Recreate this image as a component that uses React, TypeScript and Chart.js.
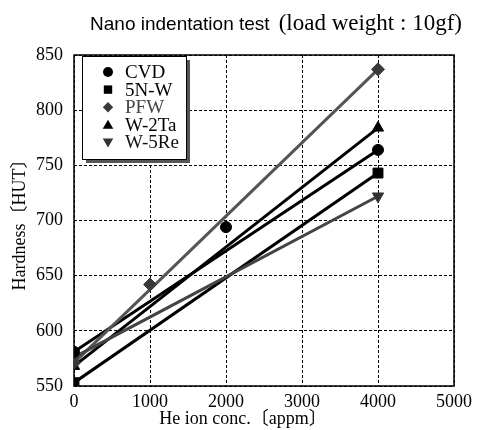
import React, { useEffect, useRef } from "react";
import { Chart, registerables } from "chart.js";
Chart.register(...registerables);

// ---- data ----
const seriesNames = ["CVD", "5N-W", "PFW", "W-2Ta", "W-5Re"];
const cvdX = [0, 2000, 4000];
const cvdY = [581, 694, 764];
const w5nX = [0, 4000];
const w5nY = [553, 743];
const pfwX = [0, 1000, 4000];
const pfwY = [571, 642, 837];
const w2taX = [0, 4000];
const w2taY = [568, 784];
const w5reX = [0, 4000];
const w5reY = [576, 722];
// fitted trend lines (start at 0, end at 4000 appm)
const fitX = [0, 4000];
const cvdFit = [581, 764];
const w5nFit = [553, 743];
const pfwFit = [571, 837];
const w2taFit = [568, 784];
const w5reFit = [576, 722];

const xTicks = [0, 1000, 2000, 3000, 4000, 5000];
const yTicks = [550, 600, 650, 700, 750, 800, 850];
const titleMain = "Nano indentation test";
const titleSub = "(load weight : 10gf)";
const xTitle = "He ion conc.〔appm〕";
const yTitle = "Hardness〔HUT〕";

const SERIF = "'Liberation Serif', 'Noto Sans CJK JP', serif";
const SANS = "'Liberation Sans', Arial, sans-serif";

const lineColors = ["#000000", "#000000", "#555555", "#000000", "#444444"];
const markColors = ["#000000", "#000000", "#3a3a3a", "#000000", "#333333"];
const textColors = ["#000000", "#000000", "#444444", "#000000", "#111111"];
const pointStyles = ["circle", "rect", "rectRot", "triangle", "triangle"];
const rotations = [0, 0, 0, 0, 180];
const radii = [5.5, 7, 6.5, 6.5, 6.5];

function pts(xs: number[], ys: number[]) {
  return xs.map((x, i) => ({ x, y: ys[i] }));
}

function drawMarker(ctx: CanvasRenderingContext2D, style: string, rot: number, x: number, y: number, s: number) {
  ctx.beginPath();
  if (style === "circle") {
    ctx.arc(x, y, s, 0, Math.PI * 2);
  } else if (style === "rect") {
    ctx.rect(x - s, y - s, 2 * s, 2 * s);
  } else if (style === "rectRot") {
    ctx.moveTo(x, y - s * 1.15);
    ctx.lineTo(x + s * 1.15, y);
    ctx.lineTo(x, y + s * 1.15);
    ctx.lineTo(x - s * 1.15, y);
    ctx.closePath();
  } else {
    const d = rot === 180 ? -1 : 1;
    ctx.moveTo(x, y - d * s);
    ctx.lineTo(x + s * 1.05, y + d * s * 0.8);
    ctx.lineTo(x - s * 1.05, y + d * s * 0.8);
    ctx.closePath();
  }
  ctx.fill();
}

const framePlugin = {
  id: "frame",
  beforeDatasetsDraw(chart: any) {
    const { ctx, chartArea: a } = chart;
    ctx.save();
    ctx.strokeStyle = "#000";
    ctx.lineWidth = 1.5;
    ctx.strokeRect(a.left, a.top, a.right - a.left, a.bottom - a.top);
    ctx.restore();
  },
  afterDraw(chart: any) {
    const { ctx, chartArea: a } = chart;
    ctx.save();
    // title
    ctx.fillStyle = "#000";
    ctx.textBaseline = "alphabetic";
    ctx.font = `19px ${SANS}`;
    const w1 = ctx.measureText(titleMain).width;
    ctx.font = `23px ${SERIF}`;
    const w2 = ctx.measureText(titleSub).width;
    const gap = 9;
    const total = w1 + gap + w2;
    const cx = 276;
    const x0 = cx - total / 2;
    ctx.font = `19px ${SANS}`;
    ctx.textAlign = "left";
    ctx.fillText(titleMain, x0, 30);
    ctx.font = `23px ${SERIF}`;
    ctx.fillText(titleSub, x0 + w1 + gap, 30);

    // x axis title
    ctx.font = `18px ${SERIF}`;
    ctx.textAlign = "center";
    ctx.textBaseline = "middle";
    ctx.fillText(xTitle, a.left + (a.right - a.left) * 0.445, 419);

    // legend
    const lx = a.left + 8;
    const ly = a.top + 1;
    const lw = 104;
    const lh = 103;
    ctx.fillStyle = "#555";
    ctx.fillRect(lx + 4, ly + 4, lw, lh);
    ctx.fillStyle = "#fff";
    ctx.fillRect(lx, ly, lw, lh);
    ctx.strokeStyle = "#000";
    ctx.lineWidth = 1;
    ctx.strokeRect(lx + 0.5, ly + 0.5, lw, lh);
    ctx.font = `19px ${SERIF}`;
    ctx.textAlign = "left";
    ctx.textBaseline = "middle";
    const msz = [5, 4.2, 4.5, 5, 5];
    seriesNames.forEach((name, i) => {
      const y = ly + 16 + i * 17.6;
      ctx.fillStyle = markColors[i];
      drawMarker(ctx, pointStyles[i], rotations[i], lx + 26, y, msz[i]);
      ctx.fillStyle = textColors[i];
      ctx.fillText(name, lx + 43, y + 1);
    });
    ctx.restore();
  },
};

export default function App() {
  const ref = useRef<HTMLCanvasElement>(null);
  useEffect(() => {
    document.body.style.margin = "0";
    const fits = [cvdFit, w5nFit, pfwFit, w2taFit, w5reFit];
    const xsArr = [cvdX, w5nX, pfwX, w2taX, w5reX];
    const ysArr = [cvdY, w5nY, pfwY, w2taY, w5reY];
    const lineSets = fits.map((f, i) => ({
      label: seriesNames[i] + " fit",
      data: pts(fitX, f),
      showLine: true,
      borderColor: lineColors[i],
      borderWidth: 3,
      pointRadius: 0,
      order: 10 - i,
    }));
    const markSets = xsArr.map((xs, i) => ({
      label: seriesNames[i],
      data: pts(xs, ysArr[i]),
      showLine: false,
      pointStyle: pointStyles[i],
      rotation: rotations[i],
      pointRadius: radii[i],
      backgroundColor: markColors[i],
      borderColor: markColors[i],
      borderWidth: 1,
      order: 0,
    }));
    const chart = new Chart(ref.current!, {
      type: "scatter",
      data: { datasets: [...lineSets, ...markSets] as any },
      plugins: [framePlugin],
      options: {
        animation: false,
        responsive: false,
        layout: { padding: { top: 55, right: 25, left: 0, bottom: 0 } },
        plugins: { legend: { display: false }, tooltip: { enabled: false }, title: { display: false } },
        scales: {
          x: {
            type: "linear",
            min: 0,
            max: 5000,
            afterFit: (s: any) => { s.height = 44; },
            afterBuildTicks: (s: any) => { s.ticks = xTicks.map((v) => ({ value: v })); },
            grid: { color: "#000", lineWidth: 1, drawTicks: false },
            border: { display: false, dash: [3, 2] },
            ticks: { color: "#000", font: { family: SERIF, size: 18 }, padding: 5, maxRotation: 0, callback: (v: any) => String(v) },
          },
          y: {
            type: "linear",
            min: 550,
            max: 850,
            afterFit: (s: any) => { s.width = 74; },
            afterBuildTicks: (s: any) => { s.ticks = yTicks.map((v) => ({ value: v })); },
            grid: { color: "#000", lineWidth: 1, drawTicks: false },
            border: { display: false, dash: [3, 2] },
            ticks: { color: "#000", font: { family: SERIF, size: 18 }, padding: 11, callback: (v: any) => String(v) },
            title: { display: true, text: yTitle, color: "#000", font: { family: SERIF, size: 18 }, padding: { top: 9, bottom: 0 } },
          },
        },
      },
    });
    return () => chart.destroy();
  }, []);
  return <canvas ref={ref} width={479} height={430} style={{ display: "block" }} />;
}
